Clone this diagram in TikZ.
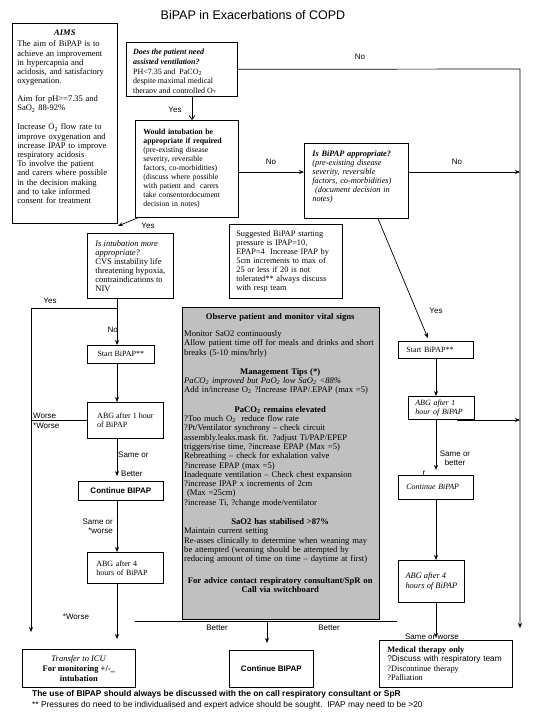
\documentclass[tikz,border=0pt]{standalone}
\usepackage{fontspec}
\setmainfont{Liberation Serif}
\setsansfont{Liberation Sans}
\usetikzlibrary{arrows.meta}
\definecolor{tipgray}{RGB}{192,192,192}
\newcommand{\subtwo}{\textsubscript{2}}
\newcommand{\midline}[1]{\makebox[\hsize]{#1}}
\tikzset{
  box/.style={draw, line width=0.7pt, anchor=north west, align=left, inner sep=0pt,
    font=\fontsize{8}{9}\selectfont},
  lbl/.style={font=\sffamily\fontsize{8}{9}\selectfont, inner sep=0pt},
  arr/.style={line width=0.7pt, -{Stealth[length=5pt,width=4pt]}},
  link/.style={line width=0.7pt},
}
\begin{document}
\begin{tikzpicture}[x=1pt,y=-1pt]
  \useasboundingbox (0,0) rectangle (535,719);
  \node[font=\sffamily\fontsize{12.5}{14}\selectfont] (title) at (253,15) {BiPAP in Exacerbations of COPD};

  \node[box, minimum width=105pt, minimum height=200pt, text width=95pt,
    font=\fontsize{8.5}{9.2}\selectfont] (aims) at (12,23) {%
    \midline{\textbf{\textit{AIMS}}}\\[1.8pt]
    The aim of BiPAP is to\\
    achieve an improvement\\
    in hypercapnia and\\
    acidosis, and satisfactory\\
    oxygenation.\\[8.8pt]
    Aim for pH>=7.35 and\\
    SaO\subtwo{} 88-92\%\\[9.8pt]
    Increase O\subtwo{} flow rate to\\
    improve oxygenation and\\
    increase IPAP to improve\\
    respiratory acidosis\\
    To involve the patient\\
    and carers where possible\\
    in the decision making\\
    and to take informed\\
    consent for treatment\\
    \rule{0pt}{12pt}};

  \node[box, minimum width=111pt, minimum height=54pt] (assist) at (126,42) {};
  \begin{scope}
    \clip (126,42) rectangle (237,92.5);
    \node[anchor=north west, align=left, inner sep=0pt, font=\fontsize{8}{9.7}\selectfont]
      (assisttext) at (133,49) {%
      \textbf{\textit{Does the patient need}}\\
      \textbf{\textit{assisted ventilation?}}\\
      PH<7.35 and\ \ PaCO\subtwo\\
      despite maximal medical\\
      therapy and controlled O\subtwo};
  \end{scope}

  \node[box, minimum width=103pt, minimum height=97pt, text width=87pt,
    font=\fontsize{7.8}{9}\selectfont] (intub) at (135,120) {%
    \textbf{Would intubation be}\\
    \textbf{appropriate if required}\\
    (pre-existing disease\\
    severity, reversible\\
    factors, co-morbidities)\\
    (discuss where possible\\
    with patient and\ \ carers\\
    take consentordocument\\
    decision in notes)};

  \node[box, minimum width=104pt, minimum height=75pt, text width=88pt,
    font=\fontsize{8.3}{9}\selectfont\itshape] (bipapq) at (304,143) {%
    \textbf{Is BiPAP appropriate?}\\
    (pre-existing disease\\
    severity, reversible\\
    factors, co-morbidities)\\
    \ (document decision in\\
    notes)\\
    \rule{0pt}{7pt}};

  \node[box, minimum width=86pt, minimum height=65pt,
    font=\fontsize{8.5}{9}\selectfont] (intubmore) at (87,233) {%
    \textit{Is intubation more}\\
    \textit{appropriate?}\\
    CVS instability life\\
    threatening hypoxia,\\
    contraindications to\\
    NIV};

  \node[box, minimum width=113pt, minimum height=74pt, text width=99pt,
    font=\fontsize{8.3}{9}\selectfont] (suggest) at (229,224) {%
    Suggested BiPAP starting\\
    pressure is IPAP=10,\\
    EPAP=4\ \ Increase IPAP by\\
    5cm increments to max of\\
    25 or less if 20 is not\\
    tolerated** always discuss\\
    with resp team};

  \node[box, fill=tipgray, minimum width=197pt, minimum height=312pt] (observe) at (182,307) {};
  \node[anchor=north west, align=left, inner sep=0pt, text width=192pt,
    font=\fontsize{8.6}{9.3}\selectfont] (observetext) at (184,313) {%
    \midline{\textbf{Observe patient and monitor vital signs}}\\[8pt]
    Monitor SaO2 continuously\\
    Allow patient time off for meals and drinks and short\\
    breaks (5-10 mins/hrly)\\[10pt]
    \midline{\textbf{Management Tips (*)}}\\
    \textit{PaCO\subtwo{} improved but PaO\subtwo{} low SaO\subtwo{} <88\%}\\
    Add in/increase O\subtwo{} ?Increase IPAP/.EPAP (max =5)\\[10pt]
    \midline{\textbf{PaCO\subtwo{} remains elevated}}\\
    ?Too much O\subtwo\ \ reduce flow rate\\
    ?Pt/Ventilator synchrony -- check circuit\\
    assembly.leaks.mask fit. ?adjust Ti/PAP/EPEP\\
    triggers/rise time, ?increase EPAP (Max =5)\\
    Rebreathing -- check for exhalation valve\\
    ?increase EPAP (max =5)\\
    Inadequate ventilation -- Check chest expansion\\
    ?increase IPAP x increments of 2cm\\
    \ (Max =25cm)\\
    ?increase Ti, ?change mode/ventilator\\[10pt]
    \midline{\textbf{SaO2 has stabilised >87\%}}\\
    Maintain current setting\\
    Re-asses clinically to determine when weaning may\\
    be attempted (weaning should be attempted by\\
    reducing amount of time on time -- daytime at first)\\[12pt]
    \midline{\textbf{For advice contact respiratory consultant/SpR on}}\\
    \midline{\textbf{Call via switchboard}}};

  \node[box, minimum width=67pt, minimum height=18pt] (startL) at (87,345) {Start BiPAP**};
  \node[box, minimum width=76pt, minimum height=36pt] (abgL) at (87,402) {ABG after 1 hour\\of BiPAP};
  \node[box, minimum width=85pt, minimum height=19pt, font=\sffamily\bfseries\fontsize{8}{9}\selectfont]
    (contL) at (78,481) {Continue BIPAP};
  \node[box, minimum width=76pt, minimum height=31pt, text width=58pt] (abgL4) at (87,552) {ABG after 4\\hours of BiPAP};
  \node[box, minimum width=113pt, minimum height=38pt, align=center,
    font=\fontsize{8.5}{10}\selectfont] (icu) at (22,649) {%
    \textit{Transfer to ICU}\\
    \textbf{For monitoring +/-\_}\\
    \textbf{intubation}};
  \node[box, minimum width=84pt, minimum height=37pt, font=\sffamily\bfseries\fontsize{8}{9}\selectfont]
    (contC) at (229,650) {Continue BIPAP};

  \node[box, minimum width=75pt, minimum height=17pt, text width=59pt] (startR) at (398,341) {Start BiPAP**};
  \node[box, minimum width=66pt, minimum height=23pt, text width=52pt, font=\fontsize{8}{9}\selectfont\itshape]
    (abgR) at (408,396) {ABG after 1\\hour of BiPAP};
  \node[box, minimum width=75pt, minimum height=24pt, text width=59pt, font=\fontsize{8}{9}\selectfont\itshape]
    (contR) at (398,475) {Continue BiPAP};
  \node[box, minimum width=66pt, minimum height=42pt, font=\fontsize{8.4}{10}\selectfont\itshape]
    (abgR4) at (398,560) {ABG after 4\\hours of BiPAP};
  \node[box, minimum width=133pt, minimum height=47pt, text width=117pt,
    font=\fontsize{8.3}{9.5}\selectfont] (medical) at (379,640) {%
    \textbf{Medical therapy only}\\
    {\sffamily ?Discuss with respiratory team}\\
    ?Discontinue therapy\\
    ?Palliation};

  \coordinate (colQ) at (192,0);
  \coordinate (colL) at (117,0);
  \coordinate (colR) at (436,0);
  \coordinate (colY) at (378,0);
  \coordinate (rowNo) at (0,172);
  \coordinate (noTop) at (520,69);
  \coordinate (noEnd) at (520,628);
  \coordinate (yesTip) at (118,226);
  \coordinate (forkL) at (117,308);
  \coordinate (cornerL) at (31,308);
  \coordinate (endL) at (31,632);
  \coordinate (betterL) at (135,621);
  \coordinate (betterR) at (397,621);
  \coordinate (betterM) at (267,621);
  \coordinate (abgOut) at (457,420);

  \draw[arr] (assist.east) -- (noTop) -- (noEnd);
  \draw[link, -{Straight Barb[length=4pt,width=6pt]}] (assist.south -| colQ) -- (intub.north -| colQ);
  \draw[arr] (intub.east |- rowNo) -- (bipapq.west |- rowNo);
  \draw[arr] (bipapq.east |- rowNo) -- (noTop |- rowNo);
  \draw[arr] ([xshift=3pt]intub.south west) -- (yesTip);
  \draw[arr] (bipapq.south -| colY) -- ([xshift=-8pt,yshift=3pt]startR.north);
  \draw[arr] (intubmore.south -| colL) -- (startL.north -| colL);
  \draw[arr] (forkL) -- (cornerL) -- (endL);
  \draw[arr] (startL.south -| colL) -- (abgL.north -| colL);
  \draw[link] (abgL.west) -- (abgL.west -| cornerL);
  \draw[arr, shorten >=5pt] (abgL.south -| colL) -- (contL.north -| colL);
  \draw[arr] (contL.south -| colL) -- (abgL4.north -| colL);
  \draw[arr, shorten >=10pt] (abgL4.south -| colL) -- (icu.north -| colL);
  \draw[link] (betterL) -- (betterR);
  \draw[arr, shorten >=7pt] (betterM) -- (contC.north -| betterM);
  \draw[arr] (startR.south -| colR) -- (abgR.north -| colR);
  \draw[arr] (abgOut) -- (abgOut -| noTop);
  \draw[arr, shorten >=5pt] (abgR.south -| colR) -- (contR.north -| colR);
  \draw[arr] (contR.south -| colR) -- (abgR4.north -| colR);
  \draw[arr, shorten >=2pt] (abgR4.south -| colR) -- (medical.north -| colR);

  \node[lbl] (noA) at (360,57) {No};
  \node[lbl] (noB) at (271,162) {No};
  \node[lbl] (noC) at (457,162) {No};
  \node[lbl] (yesA) at (175,110) {Yes};
  \node[lbl] (yesB) at (148,226) {Yes};
  \node[lbl] (yesC) at (50,301) {Yes};
  \node[lbl, anchor=east] (noD) at (118,330) {No};
  \node[lbl] (yesD) at (436,311) {Yes};
  \node[lbl, anchor=west] (worseA) at (33,416) {Worse};
  \node[lbl, anchor=west] (worseB) at (33,426) {*Worse};
  \node[lbl, anchor=west] (sameA) at (118,455) {Same or};
  \node[lbl, anchor=west] (betterA) at (121,474) {Better};
  \node[lbl, anchor=east] (sameB) at (113,522) {Same or};
  \node[lbl, anchor=east] (worseC) at (113,531) {*worse};
  \node[lbl] (worseD) at (76,617) {*Worse};
  \node[lbl] (betterB) at (217,628) {Better};
  \node[lbl] (betterC) at (329,628) {Better};
  \node[lbl] (sameC) at (455,454) {Same or};
  \node[lbl] (betterD) at (455,463) {better};
  \node[lbl] (strayR) at (424,473) {r};
  \node[lbl] (sameD) at (432,637) {Same or worse};

  \node[anchor=west, inner sep=0pt, font=\sffamily\bfseries\fontsize{8.4}{9}\selectfont] (footA) at (32,694)
    {The use of BIPAP should always be discussed with the on call respiratory consultant or SpR};
  \node[anchor=west, inner sep=0pt, font=\sffamily\fontsize{8.4}{9}\selectfont] (footB) at (32,705)
    {** Pressures do need to be individualised and expert advice should be sought.\ \ IPAP may need to be >20};
\end{tikzpicture}
\end{document}
